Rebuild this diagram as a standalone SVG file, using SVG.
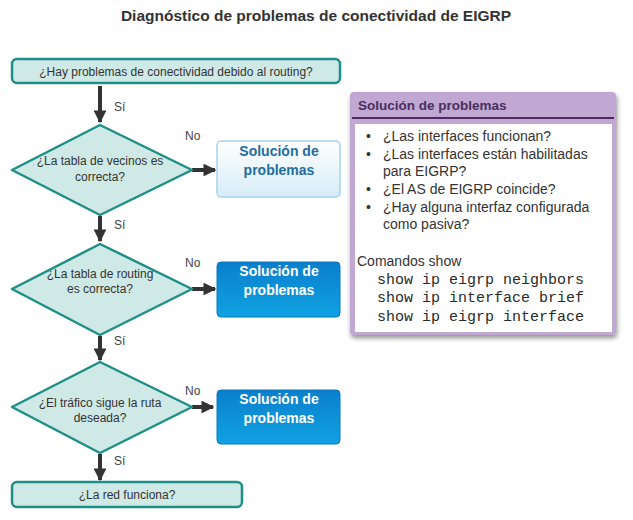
<svg xmlns="http://www.w3.org/2000/svg" width="633" height="520" viewBox="0 0 633 520">
<defs>
<style>
.t{font-family:"Liberation Sans",Arial,sans-serif;}
.q{font-family:"Liberation Sans",Arial,sans-serif;font-size:12px;fill:#333;text-anchor:middle;}
.lbl{font-family:"Liberation Sans",Arial,sans-serif;font-size:12px;fill:#444;}
.term{fill:#cfe9e6;stroke:#1e8f87;stroke-width:2.5;}
.dia{fill:#cfe9e6;stroke:#1e8f87;stroke-width:2.5;stroke-linejoin:round;}
.conn{stroke:#333;stroke-width:4;fill:none;}
.sbw{font-family:"Liberation Sans",Arial,sans-serif;font-size:14px;font-weight:bold;fill:#fff;text-anchor:middle;}
.sbl{font-family:"Liberation Sans",Arial,sans-serif;font-size:14px;font-weight:bold;fill:#1f6d9e;text-anchor:middle;}
.pt{font-family:"Liberation Sans",Arial,sans-serif;font-size:14px;fill:#333;}
.mono{font-family:"Liberation Mono","Courier New",monospace;font-size:15px;fill:#2a2a2a;}
</style>
<marker id="ah" viewBox="0 0 10 10" refX="9" refY="5" markerWidth="3.2" markerHeight="3.2" orient="auto" markerUnits="strokeWidth">
<path d="M0,0 L10,5 L0,10 Z" fill="#333"/>
</marker>
<linearGradient id="gl" x1="0" y1="0" x2="0" y2="1">
<stop offset="0" stop-color="#ffffff"/>
<stop offset="1" stop-color="#d6ecf8"/>
</linearGradient>
<linearGradient id="gb" x1="0" y1="0" x2="0" y2="1">
<stop offset="0" stop-color="#0a7fcc"/>
<stop offset="1" stop-color="#10a2e2"/>
</linearGradient>
<filter id="sh" x="-10%" y="-10%" width="125%" height="125%">
<feGaussianBlur in="SourceAlpha" stdDeviation="2.5"/>
<feOffset dx="1" dy="3"/>
<feComponentTransfer><feFuncA type="linear" slope="0.45"/></feComponentTransfer>
<feMerge><feMergeNode/><feMergeNode in="SourceGraphic"/></feMerge>
</filter>
</defs>
<rect width="633" height="520" fill="#fff"/>
<text class="t" x="316" y="21" font-size="15.5" font-weight="bold" fill="#333" text-anchor="middle">Diagnóstico de problemas de conectividad de EIGRP</text>

<g id="connectors">
<line class="conn" x1="100" y1="86" x2="100" y2="122" marker-end="url(#ah)"/>
<line class="conn" x1="100" y1="216" x2="100" y2="241" marker-end="url(#ah)"/>
<line class="conn" x1="100" y1="336" x2="100" y2="360" marker-end="url(#ah)"/>
<line class="conn" x1="100" y1="454" x2="100" y2="480" marker-end="url(#ah)"/>
<line class="conn" x1="192" y1="170" x2="215" y2="170" marker-end="url(#ah)"/>
<line class="conn" x1="192" y1="289" x2="215" y2="289" marker-end="url(#ah)"/>
<line class="conn" x1="192" y1="407" x2="213" y2="407" marker-end="url(#ah)"/>
<text class="lbl" x="114" y="111">Sí</text>
<text class="lbl" x="114" y="229">Sí</text>
<text class="lbl" x="114" y="345">Sí</text>
<text class="lbl" x="114" y="465">Sí</text>
<text class="lbl" x="185" y="140">No</text>
<text class="lbl" x="185" y="267">No</text>
<text class="lbl" x="185" y="395">No</text>
</g>

<g id="start">
<rect class="term" x="12" y="59" width="328" height="24" rx="5"/>
<text class="q" x="176" y="75.5">¿Hay problemas de conectividad debido al routing?</text>
</g>

<g id="decision1">
<polygon class="dia" points="100,125 192,170 100,215 12,170"/>
<text class="q" x="100" y="165">¿La tabla de vecinos es</text>
<text class="q" x="100" y="181">correcta?</text>
</g>

<g id="fix1">
<rect x="217" y="141" width="123" height="56" rx="4" fill="url(#gl)" stroke="#a9d3ec" stroke-width="1.5"/>
<text class="sbl" x="279" y="156">Solución de</text>
<text class="sbl" x="279" y="175">problemas</text>
</g>

<g id="decision2">
<polygon class="dia" points="100,244 192,289 100,335 12,289"/>
<text class="q" x="100" y="278">¿La tabla de routing</text>
<text class="q" x="100" y="293">es correcta?</text>
</g>

<g id="fix2">
<rect x="217" y="262" width="123" height="55" rx="4" fill="url(#gb)" stroke="#0a78c0" stroke-width="1"/>
<text class="sbw" x="279" y="276">Solución de</text>
<text class="sbw" x="279" y="295">problemas</text>
</g>

<g id="decision3">
<polygon class="dia" points="100,362 192,407 100,453 12,407"/>
<text class="q" x="100" y="407">¿El tráfico sigue la ruta</text>
<text class="q" x="100" y="422">deseada?</text>
</g>

<g id="fix3">
<rect x="217" y="390" width="123" height="54" rx="4" fill="url(#gb)" stroke="#0a78c0" stroke-width="1"/>
<text class="sbw" x="279" y="404">Solución de</text>
<text class="sbw" x="279" y="423">problemas</text>
</g>

<g id="end">
<rect class="term" x="12" y="482" width="230" height="25" rx="5"/>
<text class="q" x="127" y="499">¿La red funciona?</text>
</g>

<g id="panel">
<rect x="350" y="92" width="266" height="243" rx="4" fill="#c1a8d2" filter="url(#sh)"/>
<line x1="352" y1="118" x2="614" y2="118" stroke="#4e2a62" stroke-width="2"/>
<rect x="355" y="124" width="257" height="208" fill="#fff"/>
<text class="t" x="358" y="110" font-size="13.5" font-weight="bold" fill="#4a2e5e">Solución de problemas</text>
<text class="pt" x="366" y="141">•</text>
<text class="pt" x="383" y="141">¿Las interfaces funcionan?</text>
<text class="pt" x="366" y="159">•</text>
<text class="pt" x="383" y="159">¿Las interfaces están habilitadas</text>
<text class="pt" x="383" y="176">para EIGRP?</text>
<text class="pt" x="366" y="194">•</text>
<text class="pt" x="383" y="194">¿El AS de EIGRP coincide?</text>
<text class="pt" x="366" y="212">•</text>
<text class="pt" x="383" y="212">¿Hay alguna interfaz configurada</text>
<text class="pt" x="383" y="229">como pasiva?</text>
<text class="pt" x="357" y="266" font-size="15">Comandos show</text>
<text class="mono" x="377" y="284">show ip eigrp neighbors</text>
<text class="mono" x="377" y="302">show ip interface brief</text>
<text class="mono" x="377" y="321">show ip eigrp interface</text>
</g>
</svg>
